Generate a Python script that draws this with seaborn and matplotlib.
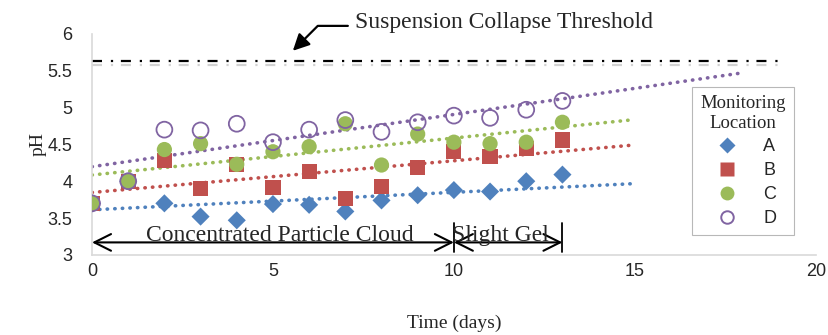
import numpy as np
import seaborn as sns
import matplotlib.pyplot as plt
import matplotlib.patheffects as pe
from matplotlib.lines import Line2D

# pH readings per monitoring location, days 0..13
days = np.arange(0, 14)
ph_a = [3.70, 4.00, 3.70, 3.52, 3.47, 3.69, 3.68, 3.59, 3.74, 3.81, 3.88, 3.86, 4.00, 4.09]
ph_b = [3.70, 4.00, 4.28, 3.90, 4.23, 3.91, 4.13, 3.77, 3.93, 4.19, 4.40, 4.34, 4.44, 4.56]
ph_c = [3.70, 4.00, 4.43, 4.51, 4.23, 4.40, 4.47, 4.78, 4.22, 4.64, 4.53, 4.51, 4.53, 4.80]
ph_d = [3.70, 4.00, 4.70, 4.69, 4.78, 4.53, 4.70, 4.83, 4.67, 4.80, 4.89, 4.86, 4.97, 5.09]
locations = ["A", "B", "C", "D"]
trend_end = [15, 15, 15, 18]
threshold = 5.63
threshold_end = 19
phases = ["Concentrated Particle Cloud", "Slight Gel"]
phase_days = [0, 10, 13]
phase_label_x = [5.2, 11.3]

colors = ["#4F81BD", "#C0504D", "#9BBB59", "#8064A2"]
markers = ["D", "s", "o", "o"]
sizes = [85, 120, 120, 130]

sns.set_style("white")
serif = "Liberation Serif"
sans = "Liberation Sans"
plt.rcParams["font.family"] = [sans, "DejaVu Sans"]

fig = plt.figure(figsize=(8.29, 3.35), dpi=100)
ax = fig.add_axes([0.111, 0.239, 0.873, 0.660])

series = [ph_a, ph_b, ph_c, ph_d]
for vals, col, mk, sz in zip(series, colors, markers, sizes):
    if col == colors[3]:
        sns.scatterplot(x=days, y=vals, marker=mk, s=sz, color=col, facecolor="none",
                        edgecolor=col, linewidth=1.3, ax=ax, zorder=3)
    else:
        sns.scatterplot(x=days, y=vals, marker=mk, s=sz, color=col, edgecolor="none",
                        ax=ax, zorder=3)

# linear trendlines
for vals, col, xe in zip(series, colors, trend_end):
    k, b = np.polyfit(days, vals, 1)
    xs = np.array([0, xe])
    ax.plot(xs, k * xs + b, color=col, lw=2.6, linestyle=(0, (0.1, 2.0)),
            dash_capstyle="round", zorder=2)

# collapse threshold
ax.plot([0, threshold_end], [threshold, threshold], color="black", lw=1.6,
        linestyle=(0, (4.5, 4, 1, 3.5)), zorder=2,
        path_effects=[pe.SimpleLineShadow(offset=(0, -3), shadow_color="gray", alpha=0.35),
                      pe.Normal()])
ax.text(7.27, 6.15, "Suspension Collapse Threshold", fontsize=17, family=serif,
        ha="left", va="center", clip_on=False)
ax.annotate("", xy=(5.55, 5.77), xytext=(7.07, 6.108), annotation_clip=False,
            arrowprops=dict(arrowstyle="-|>,head_length=0.5,head_width=0.25", color="black",
                            lw=1.6, shrinkA=0, shrinkB=0, mutation_scale=20,
                            connectionstyle="angle,angleA=0,angleB=45,rad=0"))

# phase arrows
arrow_y = 3.17
for i, name in enumerate(phases):
    x0, x1 = phase_days[i], phase_days[i + 1]
    ax.annotate("", xy=(x1, arrow_y), xytext=(x0, arrow_y),
                arrowprops=dict(arrowstyle="<->,head_length=0.6,head_width=0.3",
                                color="black", lw=1.5, shrinkA=0, shrinkB=0,
                                mutation_scale=20))
    ax.text(phase_label_x[i], 3.19, name, fontsize=17, family=serif,
            ha="center", va="baseline")
for xb in phase_days[1:]:
    ax.plot([xb, xb], [3.04, 3.43], color="black", lw=1.3)

ax.set_xlim(0, 20)
ax.set_ylim(3, 6)
ax.set_xticks([0, 5, 10, 15, 20])
ax.set_yticks(np.arange(3, 6.01, 0.5))
ax.set_yticklabels(["3", "3.5", "4", "4.5", "5", "5.5", "6"])
ax.tick_params(length=0, labelsize=13)
ax.tick_params(axis="x", pad=6)
ax.tick_params(axis="y", pad=14)
for s in ["top", "right"]:
    ax.spines[s].set_visible(False)
for s in ["left", "bottom"]:
    ax.spines[s].set_color("#D9D9D9")
    ax.spines[s].set_linewidth(1.2)
ax.set_xlabel("Time (days)", fontsize=14, family=serif, labelpad=25)
ax.set_ylabel("pH", fontsize=14, family=serif, labelpad=1)

handles = []
for loc, col, mk in zip(locations, colors, markers):
    if loc == "D":
        h = Line2D([], [], marker=mk, linestyle="none", markersize=9, markerfacecolor="none",
                   markeredgecolor=col, markeredgewidth=1.4)
    else:
        h = Line2D([], [], marker=mk, linestyle="none", markersize=8 if mk == "D" else 10,
                   color=col, markeredgecolor="none")
    handles.append(h)
leg = ax.legend(handles, locations, title="Monitoring\nLocation", loc="upper left",
                bbox_to_anchor=(0.829, 0.76), frameon=True, fancybox=False,
                fontsize=13, labelspacing=0.38, handletextpad=1.0, borderpad=0.45,
                handlelength=2.0, borderaxespad=0)
leg.get_title().set_family(serif)
leg.get_title().set_fontsize(13.5)
leg.get_title().set_multialignment("center")
leg.get_frame().set_edgecolor("#A6A6A6")
leg.get_frame().set_linewidth(0.8)

fig.savefig("out.png", dpi=100)
